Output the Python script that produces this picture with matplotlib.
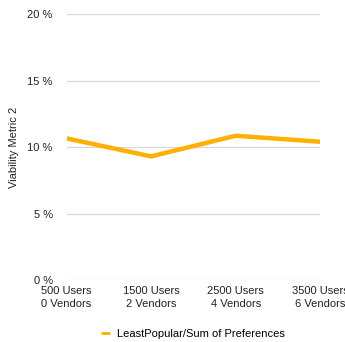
import matplotlib.pyplot as plt
from matplotlib.ticker import FuncFormatter

plt.rcParams['font.family'] = ['Liberation Sans', 'DejaVu Sans']

categories = ["500 Users\n0 Vendors", "1500 Users\n2 Vendors",
              "2500 Users\n4 Vendors", "3500 Users\n6 Vendors"]
least_popular = [10.65, 9.3, 10.85, 10.4]
series_name = "LeastPopular/Sum of Preferences"

fig = plt.figure(figsize=(3.45, 3.42), dpi=100)
ax = fig.add_axes([0.193, 0.181, 0.735, 0.778])

x = range(len(categories))
ax.plot(x, least_popular, color="#FFB000", lw=3.2, solid_capstyle="butt",
        label=series_name, zorder=3)

ax.set_ylim(0, 20)
ax.set_xlim(0, len(categories) - 1)
ax.set_yticks([0, 5, 10, 15, 20])
ax.yaxis.set_major_formatter(FuncFormatter(lambda v, p: f"{v:.0f} %"))
ax.set_xticks(list(x))
ax.set_xticklabels(categories, linespacing=1.45)
ax.grid(axis="y", color="#d9d9d9", lw=0.9)
ax.set_axisbelow(True)
for s in ax.spines.values():
    s.set_visible(False)
ax.tick_params(length=0, labelsize=8, colors="#222222")
ax.tick_params(axis="y", pad=10)
ax.tick_params(axis="x", pad=4)
ax.set_ylabel("Viability Metric 2", fontsize=8, color="#222222", labelpad=6)

leg = fig.legend(loc="center", bbox_to_anchor=(0.56, 0.023), frameon=False,
                 fontsize=8, handlelength=0.8, handletextpad=0.6)
leg.get_lines()[0].set_linewidth(2)

fig.savefig("out.png", dpi=100)
